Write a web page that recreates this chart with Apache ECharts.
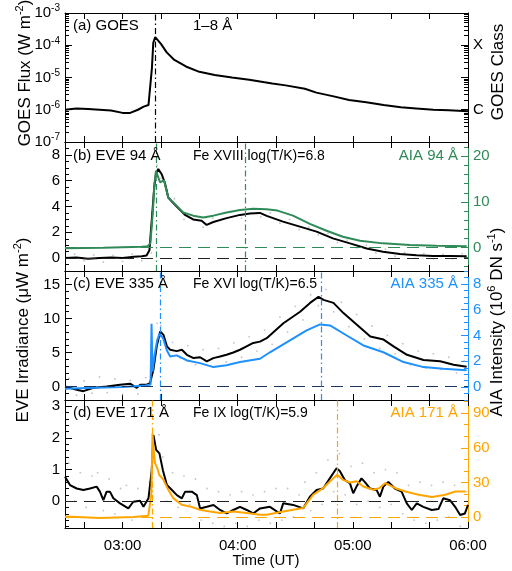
<!DOCTYPE html>
<html>
<head>
<meta charset="utf-8">
<script src="https://cdn.jsdelivr.net/npm/echarts@6/dist/echarts.min.js"></script>
<style>
  html, body { margin: 0; padding: 0; background: #fff; }
  #chart { width: 512px; height: 571px; }
</style>
</head>
<body>
<div id="chart"></div>
<script>
// time is minutes since 00:00 UT
const goesT = [150,156,162,168,174,180,184,188,191,193.5,194.5,195.3,196,197,198,200,203,207,213,220,228,237,246,258,265,275,281,290,298,307,316,325,333,342,350,360];
const goesFlux = [1.0e-6,1.1e-6,1.05e-6,1.0e-6,0.95e-6,0.8e-6,0.8e-6,1.0e-6,1.25e-6,1.4e-6,1.5e-6,2e-5,1.2e-4,1.8e-4,1.6e-4,1.1e-4,6e-5,3.5e-5,2.2e-5,1.5e-5,1.2e-5,1.0e-5,8.5e-6,6.5e-6,5.7e-6,4.5e-6,3.4e-6,2.6e-6,2.0e-6,1.7e-6,1.4e-6,1.2e-6,1.1e-6,1.0e-6,0.97e-6,0.9e-6];

const eve94T = [150,156,162,168,174,180,186,190,192.5,194,195.5,196.5,197.5,198.6,200.4,202.1,203.8,205.6,208.2,212.5,216.8,221.2,223.8,227.3,234.2,241.2,246.4,251.6,255.1,263.6,272.4,281.1,289.6,298.5,307.2,315.7,324.5,333.2,341.7,350.6,359.3];
const eve94 = [0.0,0.05,-0.05,0.0,0.05,0.0,0.1,0.15,0.2,0.6,3.5,5.5,6.6,6.9,6.5,5.8,4.7,4.4,4.0,3.35,3.0,2.9,2.57,2.8,3.1,3.35,3.45,3.5,3.27,2.83,2.44,2.05,1.53,1.14,0.75,0.49,0.31,0.23,0.16,0.16,0.14];
const eve94DotT = [155,160,165,170,175,180,185,190,195,198,200,203,207,212,217,222,227,232,237,242,247,252,257,262,267,272,277,282,287,292,297,302,307,312,317,322,327,332,337,342,347,352,357];
const eve94Dot = [0.3,-0.2,0.25,-0.3,0.2,-0.25,0.3,-0.2,0.4,7.2,6.2,5.3,4.6,3.0,3.3,2.4,3.1,3.0,3.6,3.1,3.8,3.2,3.5,2.7,3.0,2.2,2.4,1.8,1.9,1.2,1.4,0.8,1.0,0.4,0.7,0.15,0.45,0.0,0.35,-0.05,0.3,-0.05,0.35];
const aia94T = [150,170,190,193,194.5,195.8,196.6,197.4,198.5,199.5,200.4,201.6,202.6,203.8,206.4,211.6,216.8,222,227.3,234.2,241.2,248.1,255,260.7,268.8,277.6,286.3,294.8,303.7,315.7,329.8,343.6,359.3];
const aia94 = [-0.1,0.0,0.2,0.3,1.0,8,14,16.8,15.5,14.3,13.9,14.7,13.0,11.0,9.9,7.7,7.0,6.6,7.0,7.7,8.25,8.5,8.4,8.1,7.0,5.2,3.7,2.4,1.5,0.94,0.58,0.44,0.3];

const eve335T = [150,156.1,159.6,164.8,171.7,178.7,183.9,187.4,189.2,192.6,194.3,196.1,197.8,199.6,201.3,203.1,204.8,208.2,210.9,213.5,217,220.4,223.9,227.3,230.8,234.2,237.7,241.2,244.6,248.1,251.6,255.1,263.8,272.5,277.7,282.1,284.7,289.9,295.1,302.1,309.1,316,321.2,328.2,336.8,345.5,352.5,359.3];
const eve335 = [0,-0.5,-0.7,-0.2,0,0.25,0.4,-0.2,0.25,0.25,0.5,2.5,5.9,8.1,7.6,5.9,5.4,5.2,5.4,4.66,4.17,4.3,3.68,4.17,4.4,4.66,5.0,5.4,5.9,6.4,6.6,7.1,9.3,11.0,12.3,13.2,12.75,12.3,10.8,9.1,7.35,6.9,5.9,4.66,3.9,3.7,3.2,2.9];
const eve335DotT = [152,156,160,164,168,172,176,180,184,188,192,196,198,200,202,206,210,214,218,222,226,230,234,238,242,246,250,254,258,262,266,270,274,278,282,286,290,294,298,302,306,310,314,318,322,326,330,334,338,342,346,350,354,358];
const eve335Dot = [1.2,-1.3,0.8,-1.0,1.4,-0.9,1.1,-1.2,0.9,-1.1,1.3,3.5,9.3,9.0,6.8,6.5,4.2,6.0,3.2,5.4,3.0,5.6,3.6,6.4,4.3,7.3,5.2,8.3,6.2,10.2,8.0,11.8,9.8,13.5,11.9,14.3,11.0,12.4,8.8,10.6,7.0,8.9,5.6,7.5,4.8,6.3,3.2,5.2,2.7,4.8,2.5,4.3,2.0,3.8];
const aia335T = [150,165,180,192,194.6,195.1,195.6,196.8,198,199.2,201.2,203.1,204.8,208.2,213.5,220.4,227.3,234.2,241.2,251.6,256.8,267.2,275.9,282.9,288.1,296.8,305.5,315.9,326.4,336.8,347.1,359.3];
const aia335 = [-0.13,-0.05,0.0,0.13,0.2,4.9,1.2,2.6,3.6,4.14,3.75,2.84,2.38,2.46,2.07,1.86,1.55,1.7,1.94,2.2,2.7,3.62,4.4,4.86,4.78,4.0,3.23,2.7,1.94,1.55,1.42,1.3];

const eve171T = [150,152.6,156.1,159.6,163,166.5,168.2,170,171.7,173.4,175.2,178.7,183,185.6,189.1,190.9,193.5,195.2,196.1,197.5,199.2,201,203.1,205.7,208.3,210.9,212.6,216.1,218.7,220.4,223.9,227.4,230.8,234.3,237.7,241.2,244.7,248.1,251.6,256.8,262,263.7,268.9,274.1,277.6,281.1,284.5,288,291.5,293.2,295.8,298.5,300.2,301.9,304.5,306.3,308.9,312.4,314.1,315.9,318.5,321.9,325.4,328.1,330.7,333.3,336.7,341.1,344.6,347.1,350.6,353.3,355.9,358.4,360];
const eve171 = [0.77,0.51,0.4,0.35,0.4,0.46,0.3,0.03,0.3,0.3,0.09,-0.07,-0.23,-0.02,0.01,-0.18,0.09,0.98,2.09,1.62,1.51,0.98,0.51,0.35,0.19,0.09,0.3,0.3,0.19,-0.23,-0.18,-0.12,-0.28,-0.39,-0.28,-0.18,-0.28,-0.39,-0.23,-0.18,-0.39,-0.07,-0.12,-0.23,0.14,0.35,0.4,0.72,1.04,0.95,0.67,0.56,0.25,0.46,0.72,0.6,0.4,0.35,0.14,0.46,0.61,0.4,0.3,-0.07,-0.28,-0.07,-0.18,-0.28,-0.25,0.09,0.03,-0.18,-0.44,-0.39,-0.12];
const eve171DotT = [152,155,158,161,164,167,170,173,176,179,182,185,188,191,194,196,197,199,201,203,206,209,212,215,218,221,224,227,230,233,236,239,242,245,248,251,254,257,260,263,266,269,272,275,278,281,284,287,290,293,296,299,302,305,308,311,314,317,320,323,326,329,332,335,338,341,344,347,350,353,356,359];
const eve171Dot = [1.2,0.0,0.9,-0.2,0.8,0.9,-0.3,0.7,-0.4,0.4,0.5,-0.6,0.4,-0.5,0.6,2.6,1.2,2.1,1.4,0.0,0.9,-0.2,0.8,-0.1,0.7,-0.6,0.4,-0.7,0.3,-0.8,0.2,-0.7,0.3,-0.8,0.2,-0.6,0.3,-0.7,0.4,-0.6,0.4,-0.5,0.2,0.6,-0.3,0.9,-0.1,1.3,0.3,1.5,0.2,1.1,-0.1,1.2,0.0,0.9,-0.2,1.0,-0.1,0.9,-0.4,0.5,-0.6,0.6,-0.7,0.5,-0.6,0.6,-0.5,0.5,-0.8,0.3];
const aia171T = [150,168.2,185.6,193.4,195.0,195.6,196.1,196.9,198.1,199.1,201.3,203.8,206.4,210.8,215.1,220.3,225.5,230.8,237.7,244.7,251.6,255.1,263.7,268.9,274.1,279.3,284.5,288.9,291.8,294.9,298.5,301.9,305.4,310.6,313.7,316.9,322.2,327.4,334.3,341.2,348.2,353.4,358.6];
const aia171 = [0.5,-0.9,0,1.1,20,72.6,60,46.7,42.4,36.6,32.2,23.6,16.4,10.6,9.2,6.3,4.8,3.5,4.8,3.5,2.0,2.0,4.8,6.3,7.8,19.3,25.1,32.2,36.6,32.2,29.9,31,26.4,23.6,25,29.4,25,22.1,19.3,17.3,19.3,22.1,22.1];

// times of the dash-dot marker lines
const peakGoes = [197];
const peak94 = [197.8, 244.1];
const peak335 = [199.5, 283.7];
const peak171 = [195.5, 292.1];

const GREEN = '#2e8b57', BLUE = '#1e90ff', ORANGE = '#ffa500';
const FONT = 'Liberation Sans, Arial, sans-serif';

const chart = echarts.init(document.getElementById('chart'));

const tops = [13, 142, 271, 400];
const heights = [129, 129, 129, 128];

function range(a, b, step) {
    const out = [];
    for (let v = a; v <= b + 1e-9; v += step) out.push(+v.toFixed(4));
    return out;
}
function pairs(ts, vs) { return ts.map((t, i) => [t, vs[i]]); }
function fmtTime(v) {
    const h = Math.floor(v / 60), m = Math.round(v % 60);
    return (h < 10 ? '0' : '') + h + ':' + (m < 10 ? '0' : '') + m;
}

const grids = tops.map((t, i) => ({ left: 65, width: 403, top: t, height: heights[i], outerBoundsMode: 'none', containLabel: false }));

const xAxes = [];
tops.forEach((t, i) => {
    ['bottom', 'top'].forEach(pos => {
        const showLab = (i === 3 && pos === 'bottom');
        xAxes.push({
            type: 'value', gridIndex: i, position: pos, min: 150, max: 360,
            axisLine: { show: true, onZero: false, lineStyle: { color: '#000', width: 1 } },
            axisTick: { show: true, inside: true, length: 6, customValues: range(160, 360, 20), lineStyle: { color: '#000' } },
            axisLabel: showLab ? {
                show: true, customValues: [180, 240, 300, 360], formatter: fmtTime,
                fontSize: 15, color: '#000', fontFamily: FONT, margin: 10
            } : { show: false },
            splitLine: { show: false }
        });
    });
});

function yAxisPair(gi, pos, o) {
    const col = o.color || '#000';
    const base = { gridIndex: gi, position: pos, min: o.min, max: o.max, type: o.type || 'value', splitLine: { show: false } };
    if (o.type === 'log') base.logBase = 10;
    const major = Object.assign({}, base, {
        axisLine: { show: true, onZero: false, lineStyle: { color: col, width: 1 } },
        axisTick: { show: true, inside: true, length: 7, customValues: o.major, lineStyle: { color: col } },
        axisLabel: {
            show: true, color: col, fontSize: 15, fontFamily: FONT, margin: 5,
            customValues: o.labels || o.major,
            formatter: o.fmt || (v => String(v)), rich: o.rich
        }
    });
    const minor = Object.assign({}, base, {
        axisLine: { show: false },
        axisTick: { show: true, inside: true, length: 4, customValues: o.minor, lineStyle: { color: col } },
        axisLabel: { show: false }
    });
    return [major, minor];
}

const decades = [1e-7, 1e-6, 1e-5, 1e-4, 1e-3];
const logMinor = [];
[-7, -6, -5, -4].forEach(k => { for (let m = 2; m <= 9; m++) logMinor.push(m * Math.pow(10, k)); });
const supRich = { s: { fontSize: 10, fontFamily: FONT, padding: [0, 0, 9, 0] } };

const yAxes = [].concat(
    yAxisPair(0, 'left', { type: 'log', min: 1e-7, max: 1e-3, major: decades, minor: logMinor,
        fmt: v => '10{s|' + Math.round(Math.log10(v)) + '}', rich: supRich }),
    yAxisPair(0, 'right', { type: 'log', min: 1e-7, max: 1e-3, major: decades, labels: [1e-6, 1e-4], minor: logMinor,
        fmt: v => (Math.round(Math.log10(v)) === -4 ? 'X' : 'C') }),
    yAxisPair(1, 'left', { min: -1, max: 9, major: [0, 2, 4, 6, 8], minor: range(-1, 9, 0.5) }),
    yAxisPair(1, 'right', { min: -5.1, max: 23.1, major: [0, 10, 20], minor: range(-4, 22, 2), color: GREEN }),
    yAxisPair(2, 'left', { min: -2, max: 17, major: [0, 5, 10, 15], minor: range(-2, 17, 1) }),
    yAxisPair(2, 'right', { min: -1, max: 9, major: [0, 2, 4, 6, 8], minor: range(-1, 9, 0.5), color: BLUE }),
    yAxisPair(3, 'left', { min: -0.85, max: 3.2, major: [0, 1, 2, 3], minor: range(-0.8, 3.2, 0.2) }),
    yAxisPair(3, 'right', { min: -9.5, max: 101.4, major: [0, 30, 60, 90], minor: range(0, 100, 10), color: ORANGE })
);

function hLine(vals, color) {
    return vals.map(v => ({ yAxis: v, lineStyle: { color: color, type: [12, 7], width: 1.2 } }));
}
function vLine(vals, color) {
    return vals.map(v => ({ xAxis: v, lineStyle: { color: color, type: [6, 3, 1.5, 3], width: 1.2 } }));
}
function lineSeries(xi, yi, data, color, width, marks, z) {
    return {
        type: 'line', xAxisIndex: xi, yAxisIndex: yi, data: data, showSymbol: false, symbol: 'none',
        lineStyle: { color: color, width: width }, z: z || 2, silent: true, animation: false,
        markLine: { silent: true, symbol: 'none', label: { show: false }, animation: false, data: marks || [] }
    };
}
function dotSeries(xi, yi, data) {
    return {
        type: 'scatter', xAxisIndex: xi, yAxisIndex: yi, data: data, symbolSize: 1.8, silent: true,
        itemStyle: { color: '#b4b4b4' }, z: 1, animation: false
    };
}

const series = [
    lineSeries(0, 0, pairs(goesT, goesFlux), '#000', 2, hLine([1e-4, 1e-6], '#333').concat(vLine(peakGoes, '#000'))),
    dotSeries(2, 4, pairs(eve94DotT, eve94Dot)),
    lineSeries(2, 4, pairs(eve94T, eve94), '#000', 2, hLine([0], '#222')),
    lineSeries(2, 6, pairs(aia94T, aia94), GREEN, 2, hLine([0], GREEN).concat(vLine(peak94, GREEN)), 3),
    dotSeries(4, 8, pairs(eve335DotT, eve335Dot)),
    lineSeries(4, 8, pairs(eve335T, eve335), '#000', 2, hLine([0], '#1c3560')),
    lineSeries(4, 10, pairs(aia335T, aia335), BLUE, 2, vLine(peak335, BLUE), 3),
    dotSeries(6, 12, pairs(eve171DotT, eve171Dot)),
    lineSeries(6, 12, pairs(eve171T, eve171), '#000', 2, hLine([0], '#222')),
    lineSeries(6, 14, pairs(aia171T, aia171), ORANGE, 2, hLine([0], ORANGE).concat(vLine(peak171, ORANGE)), 3)
];

function txt(x, y, text, opts) {
    return {
        type: 'text', x: x, y: y, rotation: (opts && opts.rot) || 0, z: 100,
        style: Object.assign({
            text: text, fill: '#000', fontSize: 15, fontFamily: FONT,
            align: 'left', verticalAlign: 'middle'
        }, (opts && opts.style) || {})
    };
}
const vRich = { s: { fontSize: 11, fontFamily: FONT, padding: [0, 0, 10, 0] } };

const graphic = [
    txt(73, 26, '(a) GOES'),
    txt(193, 26, '1–8 Å'),
    txt(73, 156, '(b) EVE 94 Å'),
    txt(193, 156, 'Fe XVIII log(T/K)=6.8', { style: { fontSize: 14 } }),
    txt(458, 156, 'AIA 94 Å', { style: { align: 'right', fill: GREEN } }),
    txt(73, 284, '(c) EVE 335 Å'),
    txt(193, 284, 'Fe XVI log(T/K)=6.5', { style: { fontSize: 14 } }),
    txt(458, 284, 'AIA 335 Å', { style: { align: 'right', fill: BLUE } }),
    txt(73, 413, '(d) EVE 171 Å'),
    txt(193, 413, 'Fe IX log(T/K)=5.9', { style: { fontSize: 14 } }),
    txt(458, 413, 'AIA 171 Å', { style: { align: 'right', fill: ORANGE } }),
    txt(25, 73, 'GOES Flux (W m{s|-2})', { rot: Math.PI / 2, style: { align: 'center', fontSize: 17, rich: vRich } }),
    txt(23, 330, 'EVE Irradiance (μW m{s|-2})', { rot: Math.PI / 2, style: { align: 'center', fontSize: 17, rich: vRich } }),
    txt(498, 72, 'GOES Class', { rot: Math.PI / 2, style: { align: 'center', fontSize: 17 } }),
    txt(497, 322, 'AIA Intensity (10{s|6} DN s{s|-1})', { rot: Math.PI / 2, style: { align: 'center', fontSize: 17, rich: vRich } }),
    txt(266, 561, 'Time (UT)', { style: { align: 'center', fontSize: 15 } })
];

chart.setOption({
    animation: false,
    backgroundColor: '#fff',
    grid: grids,
    xAxis: xAxes,
    yAxis: yAxes,
    series: series,
    graphic: graphic
});
</script>
</body>
</html>
